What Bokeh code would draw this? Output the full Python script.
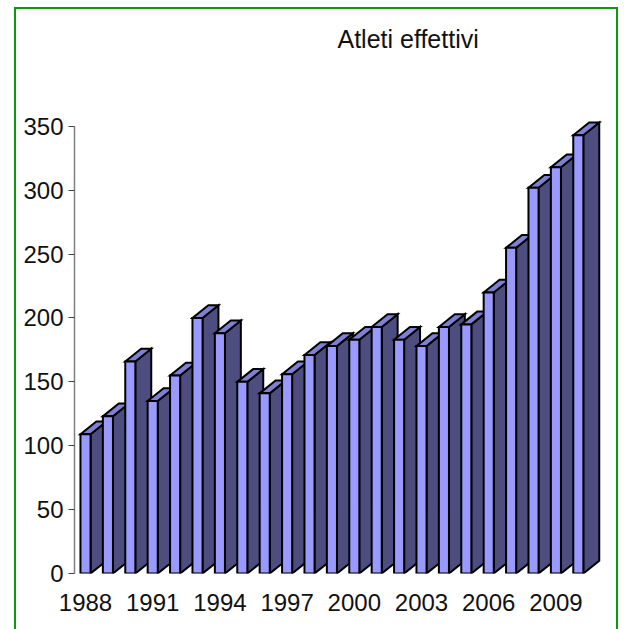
from bokeh.plotting import figure
from bokeh.models import FixedTicker, InlineStyleSheet, Range1d, Title
from bokeh.embed import file_html
from bokeh.resources import INLINE

title_text = "Atleti effettivi"
years = list(range(1988, 2011))
athletes = [109, 123, 166, 135, 155, 200, 188, 150, 141, 156, 171, 178,
            183, 193, 183, 178, 193, 195, 220, 255, 302, 318, 343]
y_ticks = [0, 50, 100, 150, 200, 250, 300, 350]
x_ticks = [1988, 1991, 1994, 1997, 2000, 2003, 2006, 2009]

BAR_W = 0.45      # front face width, years
DEPTH_X = 0.71    # 3D offset, years
DEPTH_Y = 10.0    # 3D offset, athletes
FRONT, TOP, SIDE = "#9999FF", "#7F7FD5", "#4D4D80"

xs, ys, colors = [], [], []
for yr, v in zip(years, athletes):
    x0, x1 = yr - BAR_W / 2, yr + BAR_W / 2
    xs += [[x1, x1 + DEPTH_X, x1 + DEPTH_X, x1],
           [x0, x0 + DEPTH_X, x1 + DEPTH_X, x1],
           [x0, x1, x1, x0]]
    ys += [[0, DEPTH_Y, v + DEPTH_Y, v],
           [v, v + DEPTH_Y, v + DEPTH_Y, v],
           [0, 0, v, v]]
    colors += [SIDE, TOP, FRONT]

p = figure(width=624, height=629, output_backend="svg", toolbar_location=None,
           x_range=Range1d(1987.509, 2011.705), y_range=Range1d(0, 390.6),
           min_border_left=74, min_border_right=8, min_border_top=73,
           min_border_bottom=56, background_fill_color="white",
           border_fill_color="white", outline_line_color=None)
p.grid.visible = False

p.patches(xs, ys, fill_color=colors, line_color="black", line_width=2.0,
          line_join="miter")

p.yaxis.ticker = FixedTicker(ticks=y_ticks)
p.yaxis.bounds = (0, 350)
p.yaxis.axis_line_color = "#808080"
p.yaxis.axis_line_width = 1.5
p.yaxis.major_tick_line_color = "#404040"
p.yaxis.major_tick_line_width = 1
p.yaxis.major_tick_out = 6
p.yaxis.major_tick_in = 0
p.yaxis.minor_tick_line_color = None
p.yaxis.major_label_standoff = 5
p.yaxis.major_label_text_font = "Liberation Sans"
p.yaxis.major_label_text_font_size = "24px"
p.yaxis.major_label_text_color = "#111111"

p.xaxis.ticker = FixedTicker(ticks=x_ticks)
p.xaxis.axis_line_color = None
p.xaxis.major_tick_line_color = None
p.xaxis.minor_tick_line_color = None
p.xaxis.major_label_standoff = 14
p.xaxis.major_label_text_font = "Liberation Sans"
p.xaxis.major_label_text_font_size = "24px"
p.xaxis.major_label_text_color = "#111111"

p.title = Title(text=title_text, align="left", offset=263, standoff=44,
                text_font="Liberation Sans", text_font_size="25px",
                text_font_style="normal", text_color="#111111")

# green frame round the chart area, open at the bottom
p.stylesheets = [InlineStyleSheet(css=""":host::after {
  content: ""; position: absolute; left: 14px; top: 7px; width: 604px; height: 640px;
  box-sizing: border-box; border: 2px solid #0A9A0A; border-bottom: none;
  pointer-events: none; }
:host { overflow: hidden; }""")]

open("out.html", "w").write(file_html(p, INLINE))
